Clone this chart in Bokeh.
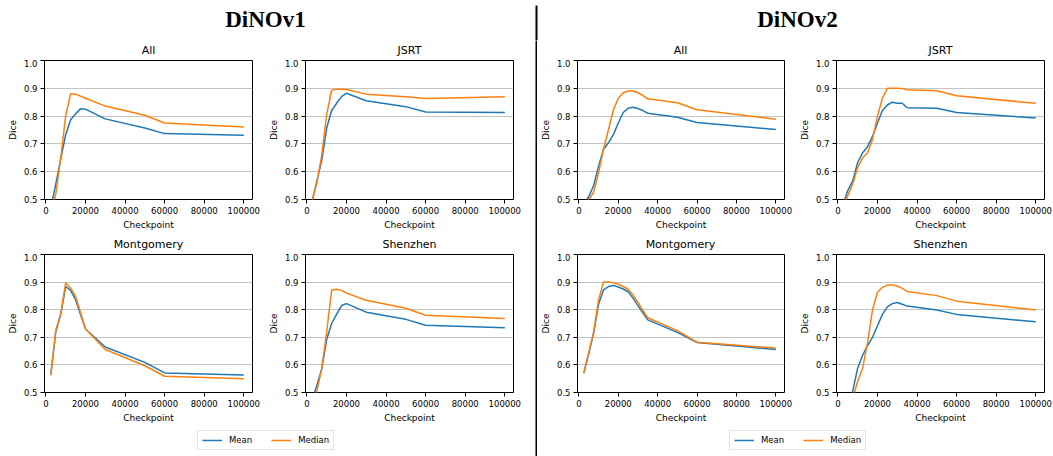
from bokeh.plotting import figure
from bokeh.layouts import row, column
from bokeh.models import Range1d, FixedTicker, PrintfTickFormatter, NumeralTickFormatter, Legend, LegendItem
from bokeh.core.properties import value
from bokeh.embed import file_html
from bokeh.resources import INLINE

# ---------------- data ----------------
checkpoints_v1 = [2500, 5000, 7500, 10000, 12500, 15000, 17500, 20000, 30000, 50000, 60000, 100000]
v1_all_mean = [0.47, 0.555, 0.645, 0.733, 0.787, 0.808, 0.826, 0.825, 0.790, 0.757, 0.737, 0.731]
v1_all_median = [0.45, 0.52, 0.65, 0.80, 0.880, 0.879, 0.872, 0.864, 0.836, 0.803, 0.775, 0.761]
v1_jsrt_mean = [0.49, 0.565, 0.64, 0.757, 0.82, 0.846, 0.87, 0.882, 0.855, 0.834, 0.815, 0.813]
v1_jsrt_median = [0.49, 0.56, 0.66, 0.805, 0.893, 0.897, 0.897, 0.896, 0.879, 0.870, 0.863, 0.870]
v1_mont_mean = [0.566, 0.72, 0.783, 0.884, 0.870, 0.836, 0.783, 0.73, 0.665, 0.609, 0.571, 0.563]
v1_mont_median = [0.562, 0.725, 0.785, 0.898, 0.878, 0.848, 0.790, 0.73, 0.656, 0.597, 0.559, 0.550]
v1_shen_mean = [0.47, 0.525, 0.585, 0.692, 0.75, 0.783, 0.815, 0.822, 0.791, 0.765, 0.744, 0.735]
v1_shen_median = [0.42, 0.505, 0.585, 0.72, 0.871, 0.874, 0.870, 0.860, 0.834, 0.805, 0.780, 0.768]

checkpoints_v2 = [2500, 5000, 7500, 10000, 12500, 15000, 17500, 20000, 22500, 25000,
                  27500, 30000, 32500, 35000, 50000, 60000, 100000]
v2_all_mean = [0.485, 0.51, 0.55, 0.62, 0.68, 0.704, 0.733, 0.775, 0.813, 0.828,
               0.832, 0.827, 0.82, 0.81, 0.796, 0.777, 0.752]
v2_all_median = [0.46, 0.50, 0.526, 0.597, 0.68, 0.75, 0.822, 0.864, 0.884, 0.89,
                 0.89, 0.884, 0.874, 0.862, 0.848, 0.823, 0.789]
v2_jsrt_mean = [0.48, 0.532, 0.567, 0.633, 0.668, 0.69, 0.727, 0.775, 0.82, 0.84,
                0.85, 0.846, 0.846, 0.83, 0.828, 0.813, 0.793]
v2_jsrt_median = [0.47, 0.514, 0.556, 0.615, 0.65, 0.668, 0.716, 0.80, 0.864, 0.90,
                  0.90, 0.90, 0.899, 0.895, 0.891, 0.873, 0.846]
v2_mont_mean = [0.57, 0.64, 0.715, 0.82, 0.872, 0.884, 0.888, 0.882, 0.875, 0.865,
                0.842, 0.815, 0.789, 0.763, 0.718, 0.681, 0.656]
v2_mont_median = [0.57, 0.645, 0.72, 0.836, 0.90, 0.90, 0.898, 0.892, 0.884, 0.874,
                  0.853, 0.827, 0.797, 0.771, 0.724, 0.682, 0.661]
v2_shen_mean = [0.38, 0.44, 0.505, 0.588, 0.635, 0.67, 0.70, 0.742, 0.783, 0.81,
                0.822, 0.826, 0.82, 0.813, 0.799, 0.783, 0.756]
v2_shen_median = [0.35, 0.40, 0.48, 0.54, 0.588, 0.682, 0.80, 0.863, 0.881, 0.889,
                  0.89, 0.886, 0.877, 0.866, 0.851, 0.831, 0.799]

x_ticks = [0, 20000, 40000, 60000, 80000, 100000]
y_ticks = [0.5, 0.6, 0.7, 0.8, 0.9, 1.0]
series_names = ["Mean", "Median"]
group_titles = ["DiNOv1", "DiNOv2"]
top_titles = ["All", "JSRT"]
bottom_titles = ["Montgomery", "Shenzhen"]

BLUE = "#1f77b4"
ORANGE = "#ff7f0e"
FONT = "DejaVu Sans"
W = 1053
DIV_X = 536


def strip(width, height):
    """Blank strip in pixel coordinates, used for titles and the legend."""
    p = figure(width=width, height=height, output_backend="svg", toolbar_location=None,
               x_range=Range1d(0, width), y_range=Range1d(0, height), min_border=0,
               x_axis_location=None, y_axis_location=None)
    p.outline_line_color = None
    p.grid.visible = False
    p.background_fill_color = "white"
    p.border_fill_color = "white"
    return p


def panel(xs, mean, median, width, height, left, right, bottom):
    p = figure(width=width, height=height, output_backend="svg", toolbar_location=None,
               x_range=Range1d(-700, 104400), y_range=Range1d(0.5, 1.0),
               min_border_left=left, min_border_right=right,
               min_border_top=1, min_border_bottom=bottom)
    p.background_fill_color = "white"
    p.border_fill_color = "white"
    p.outline_line_color = "black"
    p.outline_line_width = 1

    p.xaxis.ticker = FixedTicker(ticks=x_ticks)
    p.xaxis.formatter = NumeralTickFormatter(format="0")
    p.yaxis.ticker = FixedTicker(ticks=y_ticks)
    p.yaxis.formatter = PrintfTickFormatter(format="%.1f")
    p.xaxis.axis_label = "Checkpoint"
    p.yaxis.axis_label = "Dice"
    for ax in (p.xaxis, p.yaxis):
        ax.axis_line_color = None
        ax.major_tick_out = 4
        ax.major_tick_in = 0
        ax.minor_tick_out = 0
        ax.minor_tick_in = 0
        ax.major_tick_line_color = "black"
        ax.major_label_text_font = FONT
        ax.major_label_text_font_size = "8.5px"
        ax.major_label_text_color = "black"
        ax.axis_label_text_font = FONT
        ax.axis_label_text_font_size = "9px"
        ax.axis_label_text_font_style = "normal"
        ax.axis_label_text_color = "black"
        ax.major_label_standoff = 3
        ax.axis_label_standoff = 3
    p.xgrid.visible = False
    p.ygrid.ticker = FixedTicker(ticks=y_ticks)
    p.ygrid.grid_line_color = "#c4c4c4"
    p.ygrid.grid_line_width = 1

    p.line(xs, mean, line_color=BLUE, line_width=1.5)
    p.line(xs, median, line_color=ORANGE, line_width=1.5)
    return p


def add_legend(p, x):
    r1 = p.line(x=[-50, -40], y=[-50, -40], line_color=BLUE, line_width=1.5)
    r2 = p.line(x=[-50, -40], y=[-50, -40], line_color=ORANGE, line_width=1.5)
    leg = Legend(items=[LegendItem(label=series_names[0], renderers=[r1]),
                        LegendItem(label=series_names[1], renderers=[r2])],
                 location=(x, 6), orientation="horizontal")
    leg.label_text_font = FONT
    leg.label_text_font_size = "8.5px"
    leg.label_text_color = "black"
    leg.glyph_width = 20
    leg.glyph_height = 10
    leg.label_height = 10
    leg.label_standoff = 7
    leg.spacing = 19
    leg.padding = 4
    leg.margin = 0
    leg.border_line_color = "#cccccc"
    leg.border_line_width = 1
    leg.background_fill_alpha = 1
    p.add_layout(leg)


def title_strip(width, height, titles, xs):
    p = strip(width, height)
    p.text(x=xs, y=[9.5] * len(titles), text=titles, text_font=value(FONT),
           text_font_size="11px", text_align="center", text_baseline="middle",
           text_color="black")
    return p


# header with the group titles and the top of the divider
header = strip(W, 40)
header.text(x=[265, 797], y=[21.5, 21.5], text=group_titles, text_font=value("Liberation Serif"),
            text_font_style="bold", text_font_size="23px", text_align="center",
            text_baseline="middle", text_color="black")
header.segment(x0=[DIV_X], y0=[-2], x1=[DIV_X], y1=[35], line_color="black", line_width=2)

# DiNOv1 block (x 0..535)
left_legend = strip(535, 31)
add_legend(left_legend, 197)
left_block = column(
    title_strip(535, 19, top_titles, [148, 409]),
    row(panel(checkpoints_v1, v1_all_mean, v1_all_median, 262, 173, 44, 10, 31),
        panel(checkpoints_v1, v1_jsrt_mean, v1_jsrt_median, 273, 173, 43, 22, 31)),
    title_strip(535, 21, bottom_titles, [148, 409]),
    row(panel(checkpoints_v1, v1_mont_mean, v1_mont_median, 262, 172, 44, 10, 30),
        panel(checkpoints_v1, v1_shen_mean, v1_shen_median, 273, 172, 43, 22, 30)),
    left_legend)

# divider line (x 535..537)
divider = figure(width=2, height=416, output_backend="svg", toolbar_location=None,
                 min_border=0, x_axis_location=None, y_axis_location=None,
                 x_range=Range1d(0, 1), y_range=Range1d(0, 1))
divider.outline_line_color = None
divider.grid.visible = False
divider.background_fill_color = "black"
divider.border_fill_color = "black"

# DiNOv2 block (x 537..1053)
right_legend = strip(516, 31)
add_legend(right_legend, 192)
right_block = column(
    title_strip(516, 19, top_titles, [143, 403]),
    row(panel(checkpoints_v2, v2_all_mean, v2_all_median, 257, 173, 39, 10, 31),
        panel(checkpoints_v2, v2_jsrt_mean, v2_jsrt_median, 259, 173, 42, 9, 31)),
    title_strip(516, 21, bottom_titles, [143, 403]),
    row(panel(checkpoints_v2, v2_mont_mean, v2_mont_median, 257, 172, 39, 10, 30),
        panel(checkpoints_v2, v2_shen_mean, v2_shen_median, 259, 172, 42, 9, 30)),
    right_legend)

layout = column(header, row(left_block, divider, right_block))

open("out.html", "w").write(file_html(layout, INLINE))
